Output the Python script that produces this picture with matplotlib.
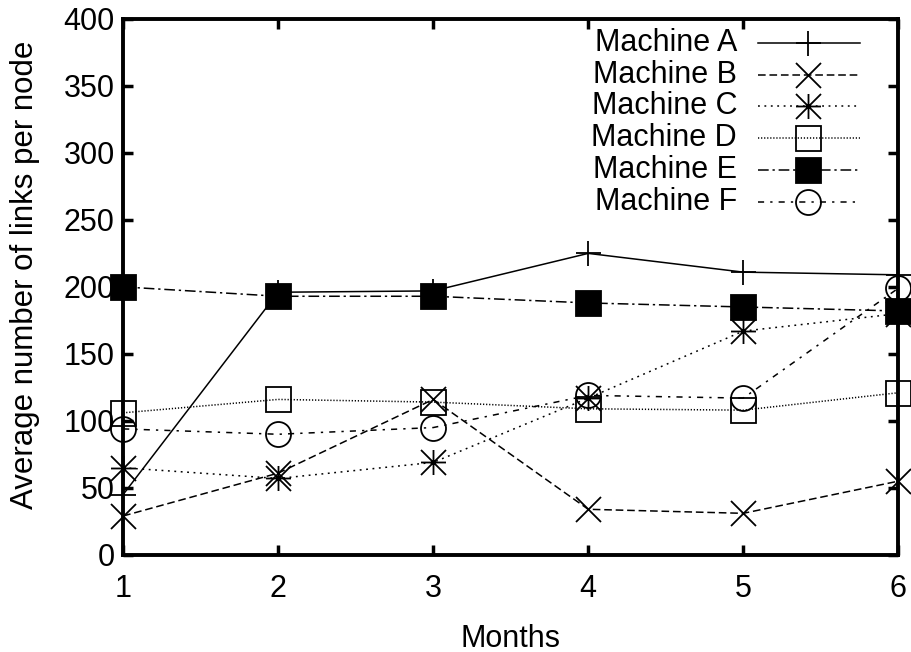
import matplotlib.pyplot as plt
from matplotlib.path import Path

plt.rcParams['font.family'] = ['Liberation Sans', 'DejaVu Sans']

months = [1, 2, 3, 4, 5, 6]
machine_a = [45, 196, 197, 225, 211, 209]
machine_b = [29, 61, 116, 34, 31, 55]
machine_c = [65, 57, 69, 117, 167, 180]
machine_d = [106, 116, 114, 109, 108, 121]
machine_e = [200, 193, 193, 188, 185, 182]
machine_f = [94, 90, 95, 119, 117, 199]

labels = ["Machine A", "Machine B", "Machine C", "Machine D", "Machine E", "Machine F"]
series = [machine_a, machine_b, machine_c, machine_d, machine_e, machine_f]

# gnuplot style star: a "+" laid over an "x"
star = Path([(0, -0.5), (0, 0.5), (-0.5, 0), (0.5, 0),
             (-0.5, -0.5), (0.5, 0.5), (-0.5, 0.5), (0.5, -0.5)],
            [Path.MOVETO, Path.LINETO] * 4)

# gnuplot-like point and dash styles
styles = [
    dict(marker='+', ls='-', mfc='none'),
    dict(marker='x', ls=(0, (5, 2.5)), mfc='none'),
    dict(marker=star, ls=(0, (1.2, 3)), mfc='none'),
    dict(marker='s', ls=(0, (0.8, 1.2)), mfc='none'),
    dict(marker='s', ls=(0, (7, 2.5, 1.5, 2.5)), mfc='black'),
    dict(marker='o', ls=(0, (4, 4, 1.5, 4)), mfc='none'),
]
sizes = [18, 18, 18, 18, 18, 18]

fig = plt.figure(figsize=(9.12, 6.52), dpi=100)
ax = fig.add_axes([0.135, 0.149, 0.85, 0.822])

for vals, st, ms in zip(series, styles, sizes):
    ax.plot(months, vals, color='black', lw=1.1, ms=ms, mew=1.3,
            mec='black', clip_on=False, zorder=3, **st)

ax.set_xlim(1, 6)
ax.set_ylim(0, 400)
ax.set_xticks(months)
ax.set_yticks(range(0, 401, 50))
ax.tick_params(direction='in', length=7, width=2.5, labelsize=22,
               top=True, right=True)
ax.tick_params(axis='x', pad=14)
ax.tick_params(axis='y', pad=6)
for sp in ax.spines.values():
    sp.set_linewidth(2.8)

ax.set_xlabel("Months", fontsize=22, labelpad=14)
ax.set_ylabel("Average number of links per node", fontsize=22.5)
ax.yaxis.set_label_coords(-0.107, 0.522)

# legend drawn by hand: text right-aligned, sample on the right
text_x = 0.792
line_x0, line_x1, mark_x = 0.819, 0.951, 0.884
rows = [0.955 - i * 0.0592 for i in range(6)]
for lab, st, ms, yy in zip(labels, styles, sizes, rows):
    ax.text(text_x, yy, lab, transform=ax.transAxes, ha='right', va='center',
            fontsize=22)
    ax.plot([line_x0, line_x1], [yy, yy], transform=ax.transAxes, color='black',
            lw=1.1, ls=st['ls'], clip_on=False)
    ax.plot([mark_x], [yy], transform=ax.transAxes, color='black', ls='none',
            marker=st['marker'], mfc=st['mfc'], mec='black', ms=ms, mew=1.3,
            clip_on=False)

fig.savefig("out.png", dpi=100)
